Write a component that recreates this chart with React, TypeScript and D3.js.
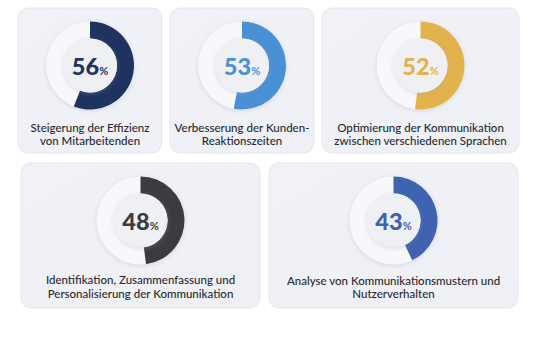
import React, { useEffect, useRef } from 'react';
import * as d3 from 'd3';

const labels = [
  ['Steigerung der Effizienz', 'von Mitarbeitenden'],
  ['Verbesserung der Kunden-', 'Reaktionszeiten'],
  ['Optimierung der Kommunikation', 'zwischen verschiedenen Sprachen'],
  ['Identifikation, Zusammenfassung und', 'Personalisierung der Kommunikation'],
  ['Analyse von Kommunikationsmustern und', 'Nutzerverhalten'],
];
const values = [56, 53, 52, 48, 43];
const colors = ['#1e335f', '#4a90d4', '#e2b24c', '#3c3c40', '#3e63b0'];

// card boxes [x, y, w, h, label offset]
const cards = [
  [18, 8, 144, 145, 123.5],
  [170, 8, 144, 145, 123.5],
  [322, 8, 197, 145, 123.5],
  [21, 163, 239, 145, 121],
  [269, 163, 249, 145, 121.5],
];

const App: React.FC = () => {
  const svgRef = useRef<SVGSVGElement | null>(null);

  useEffect(() => {
    if (!svgRef.current) return;
    const svg = d3.select(svgRef.current);
    svg.selectAll('*').remove();

    const defs = svg.append('defs');
    const grad = defs.append('linearGradient').attr('id', 'cardGrad')
      .attr('x1', 0).attr('y1', 0).attr('x2', 1).attr('y2', 1);
    grad.append('stop').attr('offset', '0%').attr('stop-color', '#f1f2f7');
    grad.append('stop').attr('offset', '100%').attr('stop-color', '#eef0f6');

    const sh = defs.append('filter').attr('id', 'ringShadow')
      .attr('x', '-30%').attr('y', '-30%').attr('width', '160%').attr('height', '160%');
    sh.append('feDropShadow').attr('dx', 0).attr('dy', 1).attr('stdDeviation', 2)
      .attr('flood-color', '#9aa0b5').attr('flood-opacity', 0.35);

    const outerR = 44;
    const innerR = 27;
    const angle = d3.scaleLinear().domain([0, 100]).range([0, 2 * Math.PI]);
    const arc = d3.arc<any>().innerRadius(innerR).outerRadius(outerR);

    values.forEach((v, i) => {
      const [x, y, w, h, ly] = cards[i];
      const g = svg.append('g');
      g.append('rect')
        .attr('x', x).attr('y', y).attr('width', w).attr('height', h)
        .attr('rx', 10)
        .attr('fill', 'url(#cardGrad)')
        .attr('stroke', '#e4e6ee').attr('stroke-width', 1);

      const cx = x + w / 2;
      const cy = y + 57.5;
      const donut = g.append('g').attr('transform', `translate(${cx},${cy})`);
      // track
      donut.append('circle').attr('r', outerR).attr('fill', '#f8f8fb')
        .attr('filter', 'url(#ringShadow)');
      // value arc
      donut.append('path')
        .attr('d', arc({ startAngle: 0, endAngle: angle(v) }) as string)
        .attr('fill', colors[i]);
      // inner disc
      donut.append('circle').attr('r', innerR).attr('fill', '#eff0f4')
        .attr('filter', 'url(#ringShadow)');

      const t = donut.append('text')
        .attr('text-anchor', 'middle')
        .attr('y', 9.5)
        .attr('fill', colors[i])
        .attr('font-family', 'Lato, sans-serif')
        .attr('font-weight', 900);
      t.append('tspan').attr('font-size', 23.5).text(String(v));
      t.append('tspan').attr('font-size', 11).attr('font-weight', 700).text('%');

      labels[i].forEach((line, j) => {
        g.append('text')
          .attr('x', cx)
          .attr('y', y + ly + j * 13.5)
          .attr('text-anchor', 'middle')
          .attr('font-family', 'Lato, sans-serif')
          .attr('font-size', 11.5)
          .attr('font-weight', 500)
          .attr('fill', '#2a2a30')
          .text(line);
      });
    });
  }, []);

  return (
    <svg
      ref={svgRef}
      width={540}
      height={360}
      style={{ position: 'absolute', left: 0, top: 0, background: '#ffffff' }}
    />
  );
};

export default App;
